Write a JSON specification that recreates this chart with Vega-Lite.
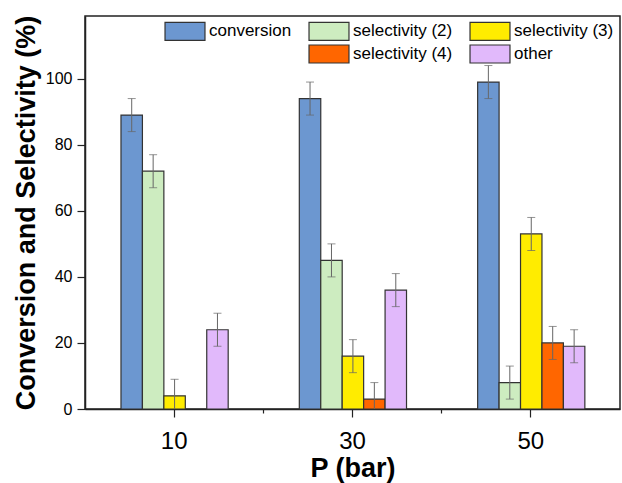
{
  "$schema": "https://vega.github.io/schema/vega-lite/v6.json",
  "autosize": {"type": "none"},
  "width": 535,
  "height": 393,
  "padding": {"left": 85, "top": 16, "right": 2, "bottom": 74},
  "background": "white",
  "config": {
    "font": "Liberation Sans",
    "view": {"stroke": "#222", "strokeWidth": 1.5},
    "axis": {"domainColor": "#222", "domainWidth": 1.5, "tickColor": "#222", "tickWidth": 1.2, "labelColor": "black", "titleColor": "black", "grid": false, "labelFont": "Liberation Sans", "titleFont": "Liberation Sans"}
  },
  "data": {
    "values": [
      {"P": 10, "series": "conversion", "value": 89, "lo": 84, "hi": 94},
      {"P": 10, "series": "selectivity (2)", "value": 72, "lo": 67, "hi": 77},
      {"P": 10, "series": "selectivity (3)", "value": 4, "lo": -1, "hi": 9},
      {"P": 10, "series": "other", "value": 24, "lo": 19, "hi": 29},
      {"P": 30, "series": "conversion", "value": 94, "lo": 89, "hi": 99},
      {"P": 30, "series": "selectivity (2)", "value": 45, "lo": 40, "hi": 50},
      {"P": 30, "series": "selectivity (3)", "value": 16, "lo": 11, "hi": 21},
      {"P": 30, "series": "selectivity (4)", "value": 3, "lo": -2, "hi": 8},
      {"P": 30, "series": "other", "value": 36, "lo": 31, "hi": 41},
      {"P": 50, "series": "conversion", "value": 99, "lo": 94, "hi": 104},
      {"P": 50, "series": "selectivity (2)", "value": 8, "lo": 3, "hi": 13},
      {"P": 50, "series": "selectivity (3)", "value": 53, "lo": 48, "hi": 58},
      {"P": 50, "series": "selectivity (4)", "value": 20, "lo": 15, "hi": 25},
      {"P": 50, "series": "other", "value": 19, "lo": 14, "hi": 24}
    ]
  },
  "encoding": {
    "x": {
      "field": "P", "type": "ordinal",
      "scale": {"domain": [10, 20, 30, 40, 50], "paddingInner": 0, "paddingOuter": 0.5},
      "axis": {
        "title": "P (bar)", "labelAngle": 0, "labelFontSize": 24, "labelPadding": 12,
        "labelExpr": "datum.value == 20 || datum.value == 40 ? '' : datum.label",
        "tickSize": {"condition": {"test": "datum.value == 20 || datum.value == 40", "value": 4}, "value": 8},
        "titleFontSize": 27, "titleFontWeight": "bold", "titlePadding": 2
      }
    },
    "xOffset": {
      "field": "series", "type": "nominal",
      "scale": {"domain": ["conversion", "selectivity (2)", "selectivity (3)", "selectivity (4)", "other"], "range": [-8.6, 98.6], "paddingInner": 0, "paddingOuter": 0}
    }
  },
  "layer": [
    {
      "mark": {"type": "bar", "stroke": "#333", "strokeWidth": 1.2},
      "encoding": {
        "y": {
          "field": "value", "type": "quantitative",
          "scale": {"domain": [0, 119], "nice": false, "zero": true},
          "axis": {
            "title": "Conversion and Selectivity (%)",
            "values": [0, 10, 20, 30, 40, 50, 60, 70, 80, 90, 100, 110],
            "labelExpr": "datum.value % 20 == 0 ? datum.label : ''",
            "tickSize": {"condition": {"test": "datum.value % 20 != 0", "value": 4}, "value": 8},
            "labelFontSize": 16, "labelPadding": 5,
            "titleFontSize": 27, "titleFontWeight": "bold", "titlePadding": 5
          }
        },
        "color": {
          "field": "series", "type": "nominal",
          "scale": {
            "domain": ["conversion", "selectivity (2)", "selectivity (3)", " ", "selectivity (4)", "other"],
            "range": ["#6c97d0", "#cdecc0", "#ffec00", "rgba(0,0,0,0)", "#ff6600", "#e1b9fb"]
          },
          "legend": {
            "title": null, "orient": "none", "legendX": 90, "legendY": 5,
            "direction": "horizontal", "columns": 3, "columnPadding": 14, "rowPadding": -1,
            "symbolType": "M-2.22,-1H2.22V1H-2.22Z", "symbolSize": 324,
            "symbolStrokeColor": "#333", "symbolStrokeWidth": 1.2, "symbolOpacity": 1,
            "labelFontSize": 17, "labelColor": "black", "labelOffset": 14, "labelLimit": 300,
            "padding": 0,
            "encode": {"symbols": {"update": {"strokeOpacity": {"signal": "datum.value === ' ' ? 0 : 1"}}}}
          }
        }
      }
    },
    {
      "mark": {"type": "rule", "color": "#666", "strokeWidth": 1, "clip": true},
      "encoding": {
        "y": {"field": "lo", "type": "quantitative"},
        "y2": {"field": "hi"}
      }
    },
    {
      "mark": {"type": "tick", "color": "#666", "size": 8, "thickness": 1, "orient": "horizontal", "clip": true},
      "encoding": {"y": {"field": "hi", "type": "quantitative"}}
    },
    {
      "mark": {"type": "tick", "color": "#666", "size": 8, "thickness": 1, "orient": "horizontal", "clip": true},
      "encoding": {"y": {"field": "lo", "type": "quantitative"}}
    }
  ]
}
